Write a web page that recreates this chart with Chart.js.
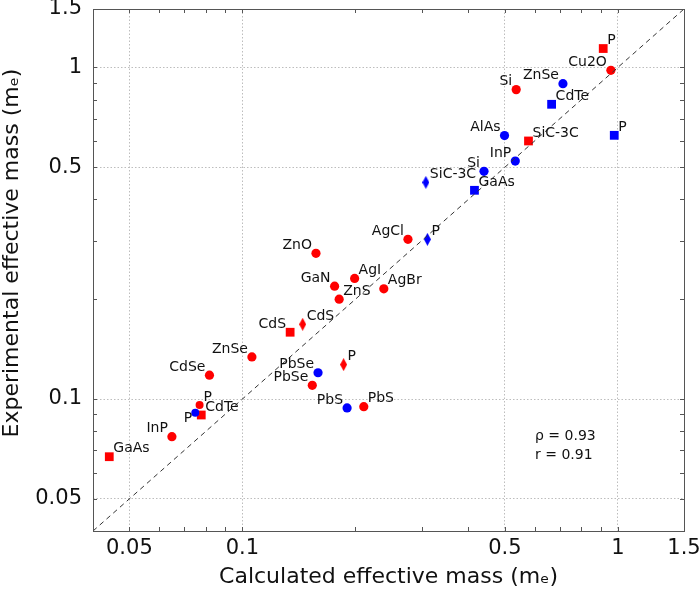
<!DOCTYPE html>
<html>
<head>
<meta charset="utf-8">
<script src="https://cdn.jsdelivr.net/npm/chart.js@4"></script>
<style>
  html, body { margin: 0; padding: 0; background: #fff; }
  #wrap { width: 700px; height: 593px; }
</style>
</head>
<body>
<div id="wrap"><canvas id="massChart"></canvas></div>
<script>
// calculated (x) vs experimental (y) effective mass, units of m_e
const redCircleNames = ['Cu2O', 'Si', 'AgCl', 'AgI', 'AgBr', 'ZnO', 'GaN', 'ZnS', 'ZnSe', 'CdSe', 'P', 'InP', 'PbSe', 'PbS'];
const redCircleCalc = [0.958, 0.536, 0.276, 0.199, 0.238, 0.157, 0.176, 0.181, 0.106, 0.0817, 0.0769, 0.0649, 0.1535, 0.2105];
const redCircleExp = [0.98, 0.857, 0.303, 0.231, 0.215, 0.275, 0.219, 0.200, 0.134, 0.118, 0.096, 0.077, 0.110, 0.0948];

const blueCircleNames = ['ZnSe', 'AlAs', 'InP', 'Si', 'PbSe', 'PbS', 'P'];
const blueCircleCalc = [0.714, 0.499, 0.533, 0.44, 0.159, 0.19, 0.0749];
const blueCircleExp = [0.893, 0.623, 0.522, 0.486, 0.12, 0.094, 0.0909];

const redSquareNames = ['P', 'SiC-3C', 'CdS', 'CdTe', 'GaAs'];
const redSquareCalc = [0.914, 0.578, 0.134, 0.0777, 0.0442];
const redSquareExp = [1.14, 0.60, 0.159, 0.0895, 0.067];

const blueSquareNames = ['CdTe', 'P', 'GaAs'];
const blueSquareCalc = [0.666, 0.978, 0.415];
const blueSquareExp = [0.774, 0.624, 0.426];

const redDiamondNames = ['CdS', 'P'];
const redDiamondCalc = [0.1447, 0.186];
const redDiamondExp = [0.168, 0.127];

const blueDiamondNames = ['SiC-3C', 'P'];
const blueDiamondCalc = [0.308, 0.311];
const blueDiamondExp = [0.45, 0.303];

const axisMin = 0.04;
const axisMax = 1.5;
const axisTicks = [0.04, 0.05, 0.06, 0.07, 0.08, 0.09, 0.1, 0.2, 0.3, 0.4, 0.5, 0.6, 0.7, 0.8, 0.9, 1, 1.5];
const labelledTicks = [0.05, 0.1, 0.5, 1, 1.5];
const statsLines = ['ρ = 0.93', 'r = 0.91'];

// which side of the marker each name sits on (L = left, R = right, LB = left below)
const redCircleSides = ['L', 'L', 'L', 'R', 'R', 'L', 'L', 'R', 'L', 'L', 'R', 'L', 'L', 'R'];
const blueCircleSides = ['L', 'L', 'L', 'L', 'L', 'L', 'LB'];
const redSquareSides = ['R', 'R', 'L', 'R', 'R'];
const blueSquareSides = ['R', 'R', 'R'];
const redDiamondSides = ['R', 'R'];
const blueDiamondSides = ['R', 'R'];

const RED = '#ff0000';
const BLUE = '#0000ff';

function toPoints(xs, ys) {
    return xs.map((x, i) => ({ x: x, y: ys[i] }));
}

function diamond(color) {
    const c = document.createElement('canvas');
    c.width = 7;
    c.height = 13;
    const g = c.getContext('2d');
    g.fillStyle = color;
    g.beginPath();
    g.moveTo(3.5, 0);
    g.lineTo(7, 6.5);
    g.lineTo(3.5, 13);
    g.lineTo(0, 6.5);
    g.closePath();
    g.fill();
    return c;
}

function circleRadius(ctx) {
    const ds = ctx.dataset;
    return ds.names && ds.names[ctx.dataIndex] === 'P' ? 4 : 4.6;
}

const nameLabels = {
    id: 'nameLabels',
    afterDatasetsDraw(chart) {
        const ctx = chart.ctx;
        ctx.save();
        ctx.font = '14px "DejaVu Sans", sans-serif';
        ctx.fillStyle = '#111';
        ctx.textBaseline = 'middle';
        chart.data.datasets.forEach((ds, di) => {
            if (!ds.names) return;
            const meta = chart.getDatasetMeta(di);
            meta.data.forEach((pt, i) => {
                const side = ds.sides[i];
                if (side === 'R') {
                    ctx.textAlign = 'left';
                    ctx.fillText(ds.names[i], pt.x + 4, pt.y - 8);
                } else if (side === 'LB') {
                    ctx.textAlign = 'right';
                    ctx.fillText(ds.names[i], pt.x - 3, pt.y + 6);
                } else {
                    ctx.textAlign = 'right';
                    ctx.fillText(ds.names[i], pt.x - 4, pt.y - 8);
                }
            });
        });
        ctx.restore();
    }
};

const frameAndText = {
    id: 'frameAndText',
    afterDraw(chart) {
        const ctx = chart.ctx;
        const a = chart.chartArea;
        const xs = chart.scales.x;
        const ys = chart.scales.y;
        ctx.save();
        ctx.strokeStyle = '#555';
        ctx.lineWidth = 1;
        ctx.strokeRect(a.left + 0.5, a.top + 0.5, a.right - a.left, a.bottom - a.top);
        ctx.beginPath();
        axisTicks.forEach(v => {
            if (v <= axisMin || v >= axisMax) return;
            const px = Math.round(xs.getPixelForValue(v)) + 0.5;
            ctx.moveTo(px, a.bottom);
            ctx.lineTo(px, a.bottom - 4);
            ctx.moveTo(px, a.top);
            ctx.lineTo(px, a.top + 4);
            const py = Math.round(ys.getPixelForValue(v)) + 0.5;
            ctx.moveTo(a.left, py);
            ctx.lineTo(a.left + 4, py);
            ctx.moveTo(a.right, py);
            ctx.lineTo(a.right - 4, py);
        });
        ctx.stroke();

        // axis titles
        ctx.fillStyle = '#111';
        ctx.font = '22px "DejaVu Sans", sans-serif';
        ctx.textAlign = 'center';
        ctx.textBaseline = 'middle';
        ctx.fillText('Calculated effective mass (mₑ)', (a.left + a.right) / 2, 577);
        ctx.save();
        ctx.translate(12, 253);
        ctx.rotate(-Math.PI / 2);
        ctx.fillText('Experimental effective mass (mₑ)', 0, 0);
        ctx.restore();

        // correlation note
        ctx.font = '14px "DejaVu Sans", sans-serif';
        ctx.textAlign = 'left';
        statsLines.forEach((t, i) => {
            ctx.fillText(t, 535, 436 + i * 19);
        });
        ctx.restore();
    }
};

function axisOptions(isX) {
    return {
        type: 'logarithmic',
        min: axisMin,
        max: axisMax,
        afterBuildTicks: (scale) => {
            scale.ticks = axisTicks.map(v => ({ value: v }));
        },
        afterFit: (scale) => {
            if (isX) {
                scale.height = 62;
                scale.paddingLeft = 0;
                scale.paddingRight = 0;
            } else {
                scale.width = 93;
                scale.paddingTop = 0;
                scale.paddingBottom = 0;
            }
        },
        ticks: {
            autoSkip: false,
            maxRotation: 0,
            padding: isX ? 5 : 11,
            color: '#111',
            font: { family: '"DejaVu Sans", sans-serif', size: 21 },
            callback: (v) => labelledTicks.includes(v) ? String(v) : ''
        },
        grid: {
            drawTicks: false,
            color: (ctx) => {
                const v = ctx.tick && ctx.tick.value;
                return labelledTicks.includes(v) && v < axisMax ? '#bdbdbd' : 'rgba(0,0,0,0)';
            },
            lineWidth: 1
        },
        border: { display: false, dash: [1.5, 2] },
        title: { display: false }
    };
}

const ctx = document.getElementById('massChart').getContext('2d');
new Chart(ctx, {
    type: 'scatter',
    data: {
        datasets: [
            {
                data: [{ x: axisMin, y: axisMin }, { x: axisMax, y: axisMax }],
                showLine: true,
                borderColor: '#333',
                borderWidth: 1,
                borderDash: [5, 4],
                pointRadius: 0,
                fill: false
            },
            {
                data: toPoints(redCircleCalc, redCircleExp),
                names: redCircleNames, sides: redCircleSides,
                pointStyle: 'circle', pointRadius: circleRadius,
                backgroundColor: RED, borderWidth: 0
            },
            {
                data: toPoints(blueCircleCalc, blueCircleExp),
                names: blueCircleNames, sides: blueCircleSides,
                pointStyle: 'circle', pointRadius: circleRadius,
                backgroundColor: BLUE, borderWidth: 0
            },
            {
                data: toPoints(redSquareCalc, redSquareExp),
                names: redSquareNames, sides: redSquareSides,
                pointStyle: 'rect', pointRadius: 6.2,
                backgroundColor: RED, borderWidth: 0
            },
            {
                data: toPoints(blueSquareCalc, blueSquareExp),
                names: blueSquareNames, sides: blueSquareSides,
                pointStyle: 'rect', pointRadius: 6.2,
                backgroundColor: BLUE, borderWidth: 0
            },
            {
                data: toPoints(redDiamondCalc, redDiamondExp),
                names: redDiamondNames, sides: redDiamondSides,
                pointStyle: diamond(RED), pointRadius: 6
            },
            {
                data: toPoints(blueDiamondCalc, blueDiamondExp),
                names: blueDiamondNames, sides: blueDiamondSides,
                pointStyle: diamond(BLUE), pointRadius: 6
            }
        ]
    },
    options: {
        responsive: true,
        maintainAspectRatio: false,
        animation: false,
        layout: { padding: { top: 9, right: 16, left: 0, bottom: 0 } },
        plugins: {
            legend: { display: false },
            tooltip: { enabled: false }
        },
        scales: {
            x: axisOptions(true),
            y: axisOptions(false)
        }
    },
    plugins: [nameLabels, frameAndText]
});
</script>
</body>
</html>
